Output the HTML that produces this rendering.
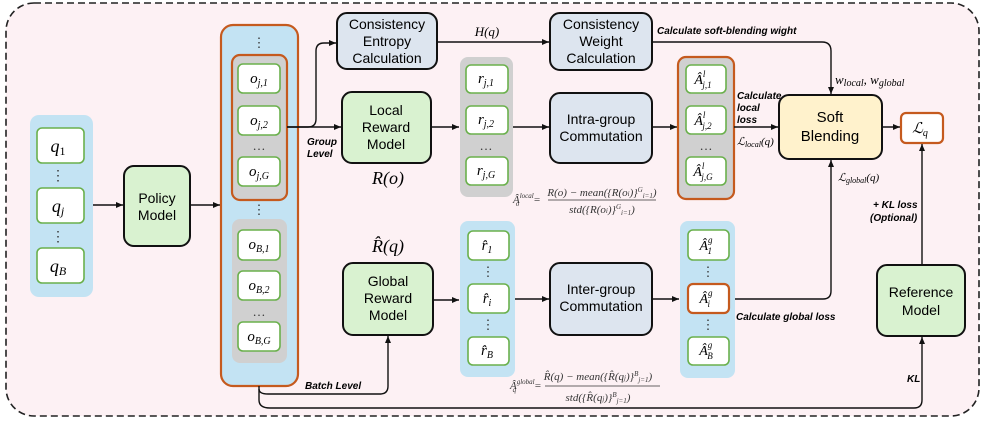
<!DOCTYPE html>
<html><head><meta charset="utf-8"><style>
html,body{margin:0;padding:0;background:#fff;}
svg{display:block;}
.m{font-family:"Liberation Serif",serif;font-style:italic;}
.s{font-family:"Liberation Sans","DejaVu Sans",sans-serif;}
.b{font-family:"Liberation Sans","DejaVu Sans",sans-serif;font-weight:bold;font-style:italic;font-size:10px;}
</style></head><body>
<svg width="987" height="421" viewBox="0 0 987 421" xmlns="http://www.w3.org/2000/svg">
<defs><marker id="a" markerWidth="8" markerHeight="8" refX="7" refY="4" orient="auto" markerUnits="userSpaceOnUse"><path d="M0,1 L7,4 L0,7 z" fill="#111"/></marker></defs>
<rect x="6" y="3" width="973" height="413" rx="28" fill="#fdf1f4" stroke="#222" stroke-width="1.6" stroke-dasharray="7,4"/>

<!-- q column -->
<rect x="30" y="115" width="63" height="182" rx="9" fill="#c3e3f3"/>
<g fill="#fff" stroke="#6ab04c" stroke-width="1.6">
<rect x="37" y="128" width="47" height="35" rx="5"/><rect x="37" y="188" width="47" height="35" rx="5"/><rect x="37" y="248" width="47" height="35" rx="5"/>
</g>
<g class="m" font-size="18" text-anchor="middle"><text x="58" y="152">q<tspan font-size="12" dy="3" font-style="normal">1</tspan></text><text x="58" y="212">q<tspan font-size="12" dy="3">j</tspan></text><text x="58" y="272">q<tspan font-size="12" dy="3">B</tspan></text></g>
<g font-size="14" text-anchor="middle" fill="#333"><text x="58" y="180">⋮</text><text x="58" y="241">⋮</text></g>

<!-- policy -->
<rect x="124" y="166" width="66" height="80" rx="10" fill="#d9f2d0" stroke="#111" stroke-width="2"/>
<text class="s" font-size="14" text-anchor="middle" x="157" y="203">Policy</text><text class="s" font-size="14" text-anchor="middle" x="157" y="220">Model</text>
<line x1="93" y1="205" x2="123" y2="205" stroke="#111" stroke-width="1.4" marker-end="url(#a)"/>
<line x1="190" y1="205" x2="220" y2="205" stroke="#111" stroke-width="1.4" marker-end="url(#a)"/>

<!-- big column -->
<rect x="221" y="25" width="77" height="361" rx="12" fill="#c3e3f3" stroke="#c55a1e" stroke-width="2.2"/>
<rect x="232" y="55" width="55" height="145" rx="8" fill="#d0d0d0" stroke="#c55a1e" stroke-width="2.2"/>
<rect x="232" y="219" width="55" height="144" rx="8" fill="#d0d0d0"/>
<g fill="#fff" stroke="#6ab04c" stroke-width="1.6">
<rect x="238" y="64" width="42" height="29" rx="5"/><rect x="238" y="106" width="42" height="29" rx="5"/><rect x="238" y="157" width="42" height="29" rx="5"/>
<rect x="238" y="230" width="42" height="30" rx="5"/><rect x="238" y="271" width="42" height="29" rx="5"/><rect x="238" y="322" width="42" height="29" rx="5"/>
</g>
<g class="m" font-size="15" text-anchor="middle">
<text x="259" y="83">o<tspan font-size="10" dy="3">j,1</tspan></text><text x="259" y="125">o<tspan font-size="10" dy="3">j,2</tspan></text><text x="259" y="176">o<tspan font-size="10" dy="3">j,G</tspan></text>
<text x="259" y="249">o<tspan font-size="10" dy="3">B,1</tspan></text><text x="259" y="290">o<tspan font-size="10" dy="3">B,2</tspan></text><text x="259" y="341">o<tspan font-size="10" dy="3">B,G</tspan></text>
</g>
<g font-size="13" text-anchor="middle" fill="#333"><text x="259" y="47">⋮</text><text x="259" y="150">…</text><text x="259" y="214">⋮</text><text x="259" y="316">…</text></g>

<!-- group level arrows -->
<path d="M287,127 H308 Q316,127 316,119 V51 Q316,43 324,43 H336" fill="none" stroke="#111" stroke-width="1.4" marker-end="url(#a)"/>
<line x1="287" y1="127" x2="341" y2="127" stroke="#111" stroke-width="1.4" marker-end="url(#a)"/>
<text class="b" x="307" y="145" font-size="9">Group</text><text class="b" x="307" y="157" font-size="9">Level</text>

<!-- entropy -->
<rect x="337" y="13" width="100" height="56" rx="10" fill="#dde5ef" stroke="#111" stroke-width="2"/>
<g class="s" font-size="14" text-anchor="middle"><text x="387" y="29">Consistency</text><text x="387" y="46">Entropy</text><text x="387" y="63">Calculation</text></g>
<line x1="437" y1="42" x2="549" y2="42" stroke="#111" stroke-width="1.4" marker-end="url(#a)"/>
<text class="m" x="487" y="36" font-size="13" text-anchor="middle">H(q)</text>

<!-- weight -->
<rect x="550" y="13" width="102" height="57" rx="10" fill="#dde5ef" stroke="#111" stroke-width="2"/>
<g class="s" font-size="14" text-anchor="middle"><text x="601" y="29">Consistency</text><text x="601" y="46">Weight</text><text x="601" y="63">Calculation</text></g>
<path d="M652,42 H822 Q831,42 831,51 V94" fill="none" stroke="#111" stroke-width="1.4" marker-end="url(#a)"/>
<text class="b" x="657" y="34">Calculate soft-blending wight</text>
<text class="m" x="835" y="84" font-size="13">w<tspan font-size="10" dy="2">local</tspan><tspan dy="-2">, w</tspan><tspan font-size="10" dy="2">global</tspan></text>

<!-- local reward -->
<rect x="342" y="92" width="89" height="71" rx="10" fill="#d9f2d0" stroke="#111" stroke-width="2"/>
<g class="s" font-size="14" text-anchor="middle"><text x="386" y="115">Local</text><text x="386" y="132">Reward</text><text x="386" y="149">Model</text></g>
<text class="m" x="388" y="184" font-size="18" text-anchor="middle">R(o)</text>
<line x1="431" y1="127" x2="459" y2="127" stroke="#111" stroke-width="1.4" marker-end="url(#a)"/>

<!-- r column -->
<rect x="460" y="57" width="53" height="140" rx="8" fill="#d0d0d0"/>
<g fill="#fff" stroke="#6ab04c" stroke-width="1.6"><rect x="466" y="65" width="42" height="28" rx="5"/><rect x="466" y="106" width="42" height="28" rx="5"/><rect x="466" y="157" width="42" height="28" rx="5"/></g>
<g class="m" font-size="15" text-anchor="middle"><text x="486" y="83">r<tspan font-size="10" dy="3">j,1</tspan></text><text x="486" y="124">r<tspan font-size="10" dy="3">j,2</tspan></text><text x="486" y="175">r<tspan font-size="10" dy="3">j,G</tspan></text></g>
<text x="486" y="150" font-size="13" text-anchor="middle" fill="#333">…</text>
<line x1="513" y1="127" x2="549" y2="127" stroke="#111" stroke-width="1.4" marker-end="url(#a)"/>

<!-- intra -->
<rect x="550" y="93" width="102" height="70" rx="10" fill="#dde5ef" stroke="#111" stroke-width="2"/>
<g class="s" font-size="14" text-anchor="middle"><text x="601" y="124">Intra-group</text><text x="601" y="141">Commutation</text></g>
<line x1="652" y1="127" x2="677" y2="127" stroke="#111" stroke-width="1.4" marker-end="url(#a)"/>

<!-- A local -->
<rect x="678" y="57" width="56" height="142" rx="8" fill="#d0d0d0" stroke="#c55a1e" stroke-width="2.2"/>
<g fill="#fff" stroke="#6ab04c" stroke-width="1.6"><rect x="686" y="65" width="40" height="28" rx="5"/><rect x="686" y="106" width="40" height="28" rx="5"/><rect x="686" y="157" width="40" height="28" rx="5"/></g>
<g class="m" font-size="14" text-anchor="middle"><text x="703" y="84">Â<tspan font-size="9" dy="-7">l</tspan><tspan font-size="9" dx="-3" dy="11">j,1</tspan></text><text x="703" y="125">Â<tspan font-size="9" dy="-7">l</tspan><tspan font-size="9" dx="-3" dy="11">j,2</tspan></text><text x="703" y="176">Â<tspan font-size="9" dy="-7">l</tspan><tspan font-size="9" dx="-3" dy="11">j,G</tspan></text></g>
<text x="706" y="150" font-size="13" text-anchor="middle" fill="#333">…</text>
<line x1="734" y1="127" x2="778" y2="127" stroke="#111" stroke-width="1.4" marker-end="url(#a)"/>
<text class="b" x="737" y="99">Calculate</text><text class="b" x="737" y="111">local</text><text class="b" x="737" y="123">loss</text>
<text class="m" x="737" y="145" font-size="11">ℒ<tspan font-size="8" dy="2">local</tspan><tspan dy="-2">(q)</tspan></text>
<g class="m" font-size="11" fill="#333"><text x="513" y="203">Â<tspan font-size="7" dy="-5">local</tspan><tspan font-size="7" dx="-18" dy="8">o</tspan><tspan dx="14" dy="-3">=</tspan></text>
<text x="602" y="196" text-anchor="middle">R(o) − mean({R(o<tspan font-size="7">i</tspan>)}<tspan font-size="7" dy="-4">G</tspan><tspan font-size="7" dy="6">i=1</tspan><tspan dy="-2">)</tspan></text>
<line x1="548" y1="200" x2="656" y2="200" stroke="#333" stroke-width="0.8"/>
<text x="602" y="213" text-anchor="middle">std({R(o<tspan font-size="7">i</tspan>)}<tspan font-size="7" dy="-4">G</tspan><tspan font-size="7" dy="6">i=1</tspan><tspan dy="-2">)</tspan></text></g>

<!-- soft blending -->
<rect x="779" y="95" width="103" height="64" rx="10" fill="#fff2cc" stroke="#111" stroke-width="2"/>
<g class="s" font-size="15" text-anchor="middle"><text x="830" y="122">Soft</text><text x="830" y="141">Blending</text></g>
<line x1="882" y1="127" x2="900" y2="127" stroke="#111" stroke-width="1.4" marker-end="url(#a)"/>
<rect x="901" y="113" width="42" height="30" rx="5" fill="#fff" stroke="#c55a1e" stroke-width="2.2"/>
<text class="m" x="920" y="133" font-size="15" text-anchor="middle">ℒ<tspan font-size="10" dy="3">q</tspan></text>
<text class="m" x="838" y="181" font-size="11">ℒ<tspan font-size="8" dy="2">global</tspan><tspan dy="-2">(q)</tspan></text>
<text class="b" x="873" y="208">+ KL loss</text><text class="b" x="870" y="221">(Optional)</text>
<line x1="922" y1="265" x2="922" y2="144" stroke="#111" stroke-width="1.4" marker-end="url(#a)"/>

<!-- reference -->
<rect x="877" y="265" width="88" height="71" rx="10" fill="#d9f2d0" stroke="#111" stroke-width="2"/>
<g class="s" font-size="14" text-anchor="middle"><text x="921" y="297">Reference</text><text x="921" y="315">Model</text></g>
<text class="b" x="907" y="382">KL</text>

<!-- global reward -->
<rect x="343" y="263" width="90" height="72" rx="10" fill="#d9f2d0" stroke="#111" stroke-width="2"/>
<g class="s" font-size="14" text-anchor="middle"><text x="388" y="286">Global</text><text x="388" y="303">Reward</text><text x="388" y="320">Model</text></g>
<text class="m" x="388" y="252" font-size="18" text-anchor="middle">R̂(q)</text>
<line x1="433" y1="300" x2="459" y2="300" stroke="#111" stroke-width="1.4" marker-end="url(#a)"/>
<path d="M259,386 V389 Q259,394 268,394 H380 Q388,394 388,386 V336" fill="none" stroke="#111" stroke-width="1.4" marker-end="url(#a)"/>
<text class="b" x="305" y="389">Batch Level</text>
<path d="M259,389 V400 Q259,408 270,408 H914 Q922,408 922,400 V337" fill="none" stroke="#111" stroke-width="1.4" marker-end="url(#a)"/>

<!-- r hat column -->
<rect x="460" y="221" width="55" height="156" rx="8" fill="#c3e3f3"/>
<g fill="#fff" stroke="#6ab04c" stroke-width="1.6"><rect x="468" y="231" width="41" height="29" rx="5"/><rect x="468" y="284" width="41" height="29" rx="5"/><rect x="468" y="337" width="41" height="28" rx="5"/></g>
<g class="m" font-size="15" text-anchor="middle"><text x="487" y="250">r̂<tspan font-size="10" dy="3">1</tspan></text><text x="487" y="303">r̂<tspan font-size="10" dy="3">i</tspan></text><text x="487" y="355">r̂<tspan font-size="10" dy="3">B</tspan></text></g>
<g font-size="13" text-anchor="middle" fill="#333"><text x="488" y="276">⋮</text><text x="488" y="329">⋮</text></g>
<line x1="515" y1="299" x2="549" y2="299" stroke="#111" stroke-width="1.4" marker-end="url(#a)"/>

<!-- inter -->
<rect x="550" y="263" width="102" height="72" rx="10" fill="#dde5ef" stroke="#111" stroke-width="2"/>
<g class="s" font-size="14" text-anchor="middle"><text x="601" y="294">Inter-group</text><text x="601" y="311">Commutation</text></g>
<line x1="652" y1="299" x2="679" y2="299" stroke="#111" stroke-width="1.4" marker-end="url(#a)"/>

<!-- A global -->
<rect x="680" y="221" width="55" height="157" rx="8" fill="#c3e3f3"/>
<g fill="#fff" stroke="#6ab04c" stroke-width="1.6"><rect x="688" y="230" width="41" height="30" rx="5"/><rect x="688" y="337" width="41" height="28" rx="5"/></g>
<rect x="688" y="284" width="41" height="29" rx="5" fill="#fff" stroke="#c55a1e" stroke-width="2.2"/>
<g class="m" font-size="14" text-anchor="middle"><text x="706" y="250">Â<tspan font-size="9" dy="-7">g</tspan><tspan font-size="9" dx="-5" dy="11">1</tspan></text><text x="706" y="303">Â<tspan font-size="9" dy="-7">g</tspan><tspan font-size="9" dx="-5" dy="11">i</tspan></text><text x="706" y="355">Â<tspan font-size="9" dy="-7">g</tspan><tspan font-size="9" dx="-5" dy="11">B</tspan></text></g>
<g font-size="13" text-anchor="middle" fill="#333"><text x="708" y="276">⋮</text><text x="708" y="329">⋮</text></g>
<path d="M735,299 H823 Q831,299 831,291 V160" fill="none" stroke="#111" stroke-width="1.4" marker-end="url(#a)"/>
<text class="b" x="736" y="320">Calculate global loss</text>
<g class="m" font-size="11" fill="#333"><text x="510" y="389">Â<tspan font-size="7" dy="-5">global</tspan><tspan font-size="7" dx="-22" dy="8">q</tspan><tspan dx="18" dy="-3">=</tspan></text>
<text x="598" y="380" text-anchor="middle">R̂(q) − mean({R̂(q<tspan font-size="7">j</tspan>)}<tspan font-size="7" dy="-4">B</tspan><tspan font-size="7" dy="6">j=1</tspan><tspan dy="-2">)</tspan></text>
<line x1="545" y1="386" x2="660" y2="386" stroke="#333" stroke-width="0.8"/>
<text x="598" y="401" text-anchor="middle">std({R̂(q<tspan font-size="7">j</tspan>)}<tspan font-size="7" dy="-4">B</tspan><tspan font-size="7" dy="6">j=1</tspan><tspan dy="-2">)</tspan></text></g>
</svg>
</body></html>
